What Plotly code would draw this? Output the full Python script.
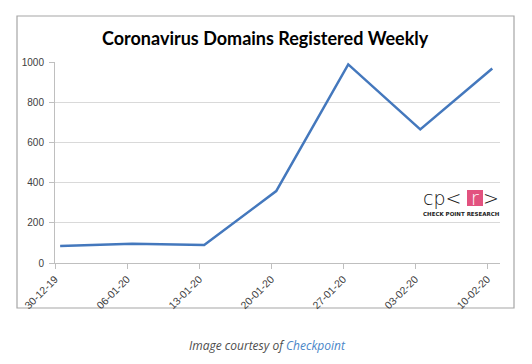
import pandas as pd
import plotly.graph_objects as go

# ---- data ----
week_labels = ["30-12-19", "06-01-20", "13-01-20", "20-01-20", "27-01-20", "03-02-20", "10-02-20"]
domains = [84, 96, 89, 358, 988, 665, 968]
y_ticks = [0, 200, 400, 600, 800, 1000]
title_text = "Coronavirus Domains Registered Weekly"
caption_plain = "Image courtesy of "
caption_link = "Checkpoint"

week_dates = pd.to_datetime(week_labels, format="%d-%m-%y")
point_dates = week_dates + pd.Timedelta(hours=12)

# page has an 8px body margin, so work in page pixels and shift
OFF = 8
W, H = 532 - OFF, 364 - OFF
PL, PT, PR, PB = 55, 62, 500, 263          # plot area in page pixels
L, T = PL - OFF, PT - OFF
pw, ph = PR - PL, PB - PT
R, B = W - L - pw, H - T - ph


def px(x):
    return (x - PL) / pw


def py(y):
    return (PB - y) / ph


fig = go.Figure()
fig.add_trace(go.Scatter(
    x=point_dates, y=domains, mode="lines",
    line=dict(color="#4478bd", width=2.5),
    hoverinfo="skip", showlegend=False,
))

grid = "#d9d9d9"
axis_c = "#bfbfbf"
ytick_font = dict(family="Liberation Sans, Arial, sans-serif", size=10, color="#404040")
xtick_font = dict(family="Liberation Sans, Arial, sans-serif", size=10.5, color="#404040")

fig.update_xaxes(
    type="date",
    range=[week_dates[0], week_dates[-1] + pd.Timedelta(hours=30)],
    tickvals=week_dates, ticktext=week_labels, tickangle=-45,
    showgrid=False, showline=True, linecolor=axis_c, linewidth=1,
    ticks="outside", ticklen=5, tickcolor=axis_c, tickfont=xtick_font,
    zeroline=False, fixedrange=True, automargin=False,
)
fig.update_yaxes(
    range=[0, 1000], tickvals=y_ticks,
    showgrid=True, gridcolor=grid, gridwidth=1,
    showline=True, linecolor=axis_c, linewidth=1,
    ticks="outside", ticklen=5, tickcolor=axis_c, tickfont=ytick_font,
    ticklabelstandoff=3,
    zeroline=False, fixedrange=True, automargin=False,
)

shapes = [
    # outer chart frame
    dict(type="rect", xref="paper", yref="paper",
         x0=px(17), x1=px(514), y0=py(308), y1=py(16),
         line=dict(color="#a6a6a6", width=1.2), fillcolor="rgba(0,0,0,0)", layer="below"),
    # logo pink box
    dict(type="rect", xref="paper", yref="paper",
         x0=px(467), x1=px(483), y0=py(206), y1=py(190),
         line=dict(width=0), fillcolor="#e2527f"),
]

logo_font = dict(family="DejaVu Sans, sans-serif", size=19, color="#111111", weight=300)
annotations = [
    dict(text=f"<b>{title_text}</b>", xref="paper", yref="paper",
         x=px(265), y=py(38), xanchor="center", yanchor="middle", showarrow=False,
         font=dict(family="Lato, Carlito, sans-serif", size=18, color="#000000")),
    dict(text="cp<", xref="paper", yref="paper", x=px(442), y=py(198),
         xanchor="center", yanchor="middle", showarrow=False, font=logo_font),
    dict(text="r", xref="paper", yref="paper", x=px(475), y=py(198),
         xanchor="center", yanchor="middle", showarrow=False,
         font=dict(family=logo_font["family"], size=19, color="#ffffff", weight=300)),
    dict(text=">", xref="paper", yref="paper", x=px(491), y=py(198),
         xanchor="center", yanchor="middle", showarrow=False, font=logo_font),
    dict(text="<b>CHECK POINT RESEARCH</b>", xref="paper", yref="paper",
         x=px(461), y=py(214), xanchor="center", yanchor="middle", showarrow=False,
         font=dict(family="DejaVu Sans, sans-serif", size=5.5, color="#222222")),
    dict(text=f"<i>{caption_plain}<span style='color:#4a86c8'>{caption_link}</span></i>",
         xref="paper", yref="paper", x=px(267), y=py(345),
         xanchor="center", yanchor="middle", showarrow=False,
         font=dict(family="Open Sans, sans-serif", size=12, color="#4d4d4d")),
]

fig.update_layout(
    width=W, height=H,
    margin=dict(l=L, r=R, t=T, b=B, pad=0),
    paper_bgcolor="#ffffff", plot_bgcolor="#ffffff",
    shapes=shapes, annotations=annotations,
    showlegend=False,
)

fig.write_html("out.html", config={"displayModeBar": False})
